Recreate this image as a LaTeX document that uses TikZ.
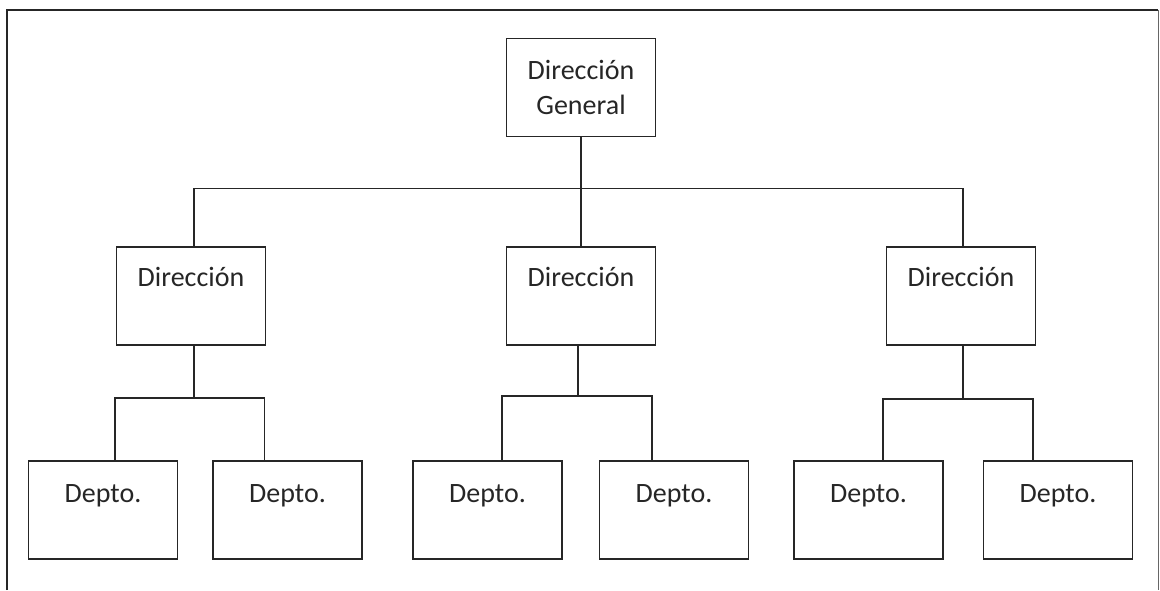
\documentclass[tikz,border=0pt]{standalone}
\usepackage{fontspec}
\setmainfont{Carlito}
\usetikzlibrary{calc}

\begin{document}
\begin{tikzpicture}[x=1pt, y=-1pt, line width=1.9pt]

        % Box styles, one unit of the chart each
        \tikzset{
            unitbox/.style={draw=black!85, rectangle, inner sep=0pt,
                minimum width=149pt, minimum height=98pt,
                font=\fontsize{28}{35}\selectfont, text=black!85},
            dirbox/.style={unitbox, text height=39pt, text depth=59pt},
            deptobox/.style={unitbox, text height=41pt, text depth=57pt}
        }

        \useasboundingbox (0, 0) rectangle (1160, 590);

        % Frame round the chart (open at the bottom)
        \draw[black!85] (7, 590) -- (7, 10) -- (1158, 10);
        \draw[black!60, line width=1pt] (1158, 10) -- (1158, 590);

        % Top of the chart
        \node[unitbox, align=center] (dg) at (581, 87.5) {Dirección\\General};

        % Second level
        \node[dirbox] (dir1) at (191, 296) {Dirección};
        \node[dirbox] (dir2) at (581, 296) {Dirección};
        \node[dirbox] (dir3) at (961, 296) {Dirección};

        % Third level, two per direction
        \node[deptobox] (dep11) at (103, 510) {Depto.};
        \node[deptobox] (dep12) at (287.5, 510) {Depto.};
        \node[deptobox] (dep21) at (487.5, 510) {Depto.};
        \node[deptobox] (dep22) at (674, 510) {Depto.};
        \node[deptobox] (dep31) at (868.5, 510) {Depto.};
        \node[deptobox] (dep32) at (1058, 510) {Depto.};

        % Lines from the top box to the directions
        \begin{scope}[black!85]
            \draw (dg.south) -- ++(0, 51) coordinate (bus);
            \draw ([xshift=3pt]dir1.north) |- (bus) -| ([xshift=2pt]dir3.north);
            \draw (bus) -- (dir2.north);

            % Lines from each direction to its departments
            \draw ([xshift=3pt]dir1.south) -- ++(0, 52) coordinate (sub1);
            \draw ([xshift=12pt]dep11.north) |- (sub1)
                -| ([xshift=-23pt]dep12.north);

            \draw ([xshift=-3pt]dir2.south) -- ++(0, 50) coordinate (sub2);
            \draw ([xshift=14.5pt]dep21.north) |- (sub2)
                -| ([xshift=-22pt]dep22.north);

            \draw ([xshift=2pt]dir3.south) -- ++(0, 53) coordinate (sub3);
            \draw ([xshift=14.5pt]dep31.north) |- (sub3)
                -| ([xshift=-25pt]dep32.north);
        \end{scope}

\end{tikzpicture}
\end{document}
